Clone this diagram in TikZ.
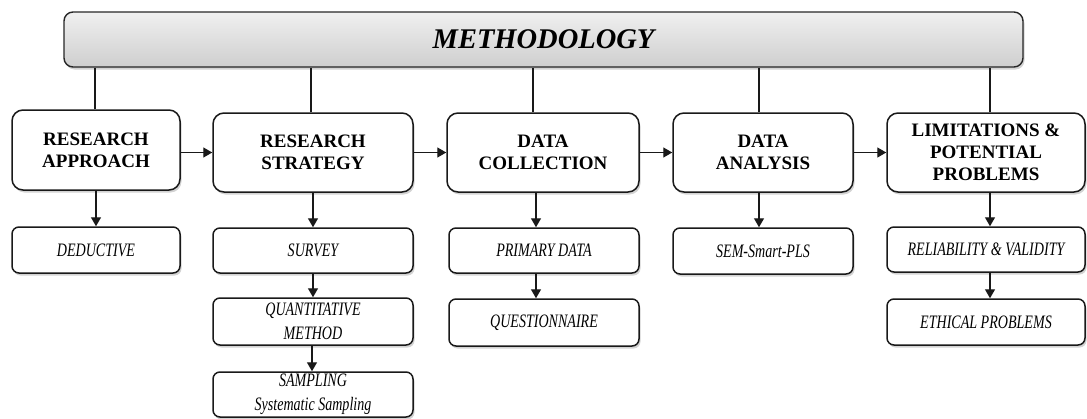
\documentclass[tikz,border=0pt]{standalone}
\usepackage{fontspec}
\setmainfont{Liberation Serif}
\newfontfamily\subfont[FakeStretch=0.74]{Liberation Serif}
\usetikzlibrary{arrows.meta,shadows}
\begin{document}
\begin{tikzpicture}[x=1pt,y=-1pt,
  every shadow/.style={opacity=0.35, shadow xshift=1.5pt, shadow yshift=-2.5pt},
  bar/.style={draw=black!85, line width=1.4pt, rounded corners=9pt, top color=gray!12, bottom color=gray!38,
    drop shadow, minimum width=959, minimum height=55, inner sep=0pt,
    font=\fontsize{28.5}{30}\selectfont\bfseries\itshape},
  mainbox/.style={draw=black!90, line width=1.5pt, rounded corners=11pt, fill=white, drop shadow,
    minimum height=79, inner sep=0pt, align=center,
    font=\fontsize{19}{22}\selectfont\bfseries},
  subbox/.style={draw=black!90, line width=1.5pt, rounded corners=7pt, fill=white, drop shadow,
    minimum height=46, inner sep=0pt, align=center,
    font=\subfont\itshape\fontsize{19}{24}\selectfont},
  conn/.style={line width=1.4pt, black!90},
  arr/.style={conn, -{Triangle[length=9pt,width=10pt]}}
]
\useasboundingbox (0,0) rectangle (1087,418);

% top bar
\node[bar] (bar) at (543.5,39.5) {METHODOLOGY};

% main boxes
\node[mainbox, minimum width=168, minimum height=80] (b1) at (96,150) {RESEARCH\\APPROACH};
\node[mainbox, minimum width=200] (b2) at (313,152.5) {RESEARCH\\STRATEGY};
\node[mainbox, minimum width=192] (b3) at (543,152.5) {DATA\\COLLECTION};
\node[mainbox, minimum width=180] (b4) at (763,152.5) {DATA\\ANALYSIS};
\node[mainbox, minimum width=198] (b5) at (986,152.5) {LIMITATIONS \&\\POTENTIAL\\PROBLEMS};

% sub boxes
\node[subbox, minimum width=168] (s1) at (96,250) {DEDUCTIVE};
\node[subbox, minimum width=200, minimum height=45] (s2) at (313,250.5) {SURVEY};
\node[subbox, minimum width=200, minimum height=47] (s3) at (313,321.5) {QUANTITATIVE\\METHOD};
\node[subbox, minimum width=200, minimum height=45] (s4) at (313,394.5) {SAMPLING\\Systematic Sampling};
\node[subbox, minimum width=190, minimum height=45] (s5) at (544,250.5) {PRIMARY DATA};
\node[subbox, minimum width=190, minimum height=47] (s6) at (544,322.5) {QUESTIONNAIRE};
\node[subbox, minimum width=180] (s7) at (763,251) {SEM-Smart-PLS};
\node[subbox, minimum width=198, minimum height=45] (s8) at (986,249.5) {RELIABILITY \& VALIDITY};
\node[subbox, minimum width=198] (s9) at (986,322) {ETHICAL PROBLEMS};

% lines from bar
\draw[conn] ([xshift=-1]b1.north) -- ([xshift=-1]b1.north |- bar.south);
\draw[conn] ([xshift=-2]b2.north) -- ([xshift=-2]b2.north |- bar.south);
\draw[conn] ([xshift=-10]b3.north) -- ([xshift=-10]b3.north |- bar.south);
\draw[conn] ([xshift=-4]b4.north) -- ([xshift=-4]b4.north |- bar.south);
\draw[conn] ([xshift=4]b5.north) -- ([xshift=4]b5.north |- bar.south);

% horizontal arrows
\draw[arr] (b1.east |- b2.west) -- (b2.west);
\draw[arr] (b2.east) -- (b3.west);
\draw[arr] (b3.east) -- (b4.west);
\draw[arr] (b4.east) -- (b5.west);

% down arrows
\draw[arr] (b1.south) -- (s1.north);
\draw[arr] (b2.south) -- (s2.north);
\draw[arr] ([xshift=-7]b3.south) -- ([xshift=-7]b3.south |- s5.north);
\draw[arr] ([xshift=-4]b4.south) -- ([xshift=-4]b4.south |- s7.north);
\draw[arr] ([xshift=4]b5.south) -- ([xshift=4]b5.south |- s8.north);
\draw[arr] (s2.south) -- (s3.north);
\draw[arr] ([xshift=-1]s3.south) -- ([xshift=-1]s3.south |- s4.north);
\draw[arr] ([xshift=-8]s5.south) -- ([xshift=-8]s5.south |- s6.north);
\draw[arr] ([xshift=4]s8.south) -- ([xshift=4]s8.south |- s9.north);
\end{tikzpicture}
\end{document}
